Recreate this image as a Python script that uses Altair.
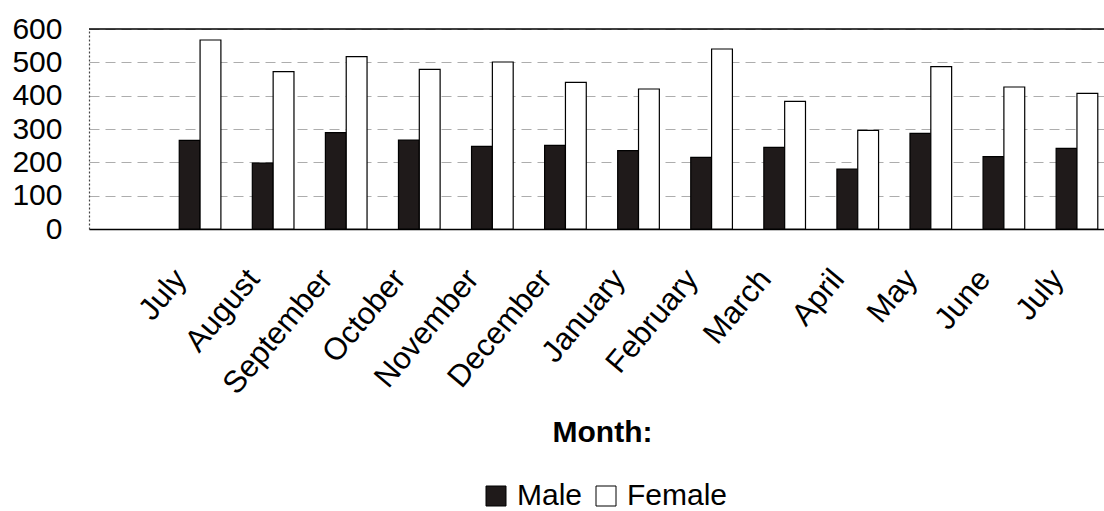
import json

import altair as alt
import pandas as pd

# Monthly counts by sex
months = ["July", "August", "September", "October", "November", "December",
          "January", "February", "March", "April", "May", "June", "July"]
male = [266, 198, 289, 267, 248, 251, 235, 215, 245, 180, 287, 217, 242]
female = [567, 472, 517, 479, 501, 440, 420, 540, 383, 296, 487, 426, 407]
series = ["Male", "Female"]
y_ticks = [0, 100, 200, 300, 400, 500, 600]

rows = []
for i, (m, f) in enumerate(zip(male, female)):
    rows.append({"idx": i, "series": "Male", "value": m})
    rows.append({"idx": i, "series": "Female", "value": f})
df = pd.DataFrame(rows)

FONT = "Liberation Sans"
W, H = 1015, 200
BAR = 0.285  # bar width in category units

label_expr = json.dumps(months) + "[datum.value]"

x_scale = alt.Scale(domain=[-1.52, 12.37], nice=False, zero=False, padding=0)
y_scale = alt.Scale(domain=[0, 600], nice=False, padding=0)

y_axis = alt.Axis(
    values=y_ticks,
    tickCount=7,
    title=None,
    labelFont=FONT,
    labelFontSize=30,
    labelColor="black",
    labelPadding=27,
    labelOverlap=False,
    labelFlush=False,
    ticks=False,
    grid=True,
    gridColor="#777777",
    gridDash=[10, 6],
    gridOpacity=0.6,
    domainColor="#444444",
    domainDash=[2, 2],
    domainWidth=1.2,
)

bars = (
    alt.Chart(df)
    .transform_calculate(
        x0=f"datum.series == 'Male' ? datum.idx - {BAR} : datum.idx",
        x1=f"datum.series == 'Male' ? datum.idx : datum.idx + {BAR}",
    )
    .mark_bar(stroke="black", strokeWidth=1.2)
    .encode(
        x=alt.X(
            "x0:Q",
            scale=x_scale,
            axis=alt.Axis(
                values=list(range(len(months))),
                labelExpr=label_expr,
                labelAngle=-50,
                labelAlign="right",
                labelBaseline="top",
                labelPadding=35,
                labelOffset=-31,
                labelFlush=False,
                labelOverlap=False,
                labelBound=False,
                labelFont=FONT,
                labelFontSize=31,
                labelColor="black",
                ticks=False,
                grid=False,
                domainColor="black",
                domainWidth=1.5,
                title="Month:",
                titleFont=FONT,
                titleFontSize=30,
                titleFontWeight="bold",
                titleColor="black",
                titleX=513,
                titleY=203,
                titleBaseline="middle",
                titleAlign="center",
            ),
        ),
        x2="x1:Q",
        y=alt.Y("value:Q", scale=y_scale, axis=y_axis),
        y2=alt.datum(0),
        fill=alt.Fill(
            "series:N",
            scale=alt.Scale(domain=series, range=["#1f1a1a", "#ffffff"]),
            legend=alt.Legend(
                title=None,
                orient="none",
                legendX=392,
                legendY=452,
                direction="horizontal",
                symbolType="square",
                symbolSize=400,
                symbolStrokeColor="black",
                symbolStrokeWidth=1,
                labelFont=FONT,
                labelFontSize=30,
                labelColor="black",
                labelOffset=6,
                columnPadding=8,
                padding=0,
            ),
        ),
    )
)

top_line = (
    alt.Chart(pd.DataFrame({"y": [600]}))
    .mark_rule(color="black", strokeWidth=1.5)
    .encode(y=alt.Y("y:Q", scale=y_scale, axis=y_axis))
)

chart = (
    alt.layer(bars, top_line)
    .properties(
        width=W,
        height=H,
        autosize=alt.AutoSizeParams(type="none"),
        padding={"left": 89, "top": 29, "right": 0, "bottom": 282},
        background="white",
    )
    .configure_view(stroke=None)
)

chart.save("out.html", embed_options={"renderer": "svg", "actions": False})
